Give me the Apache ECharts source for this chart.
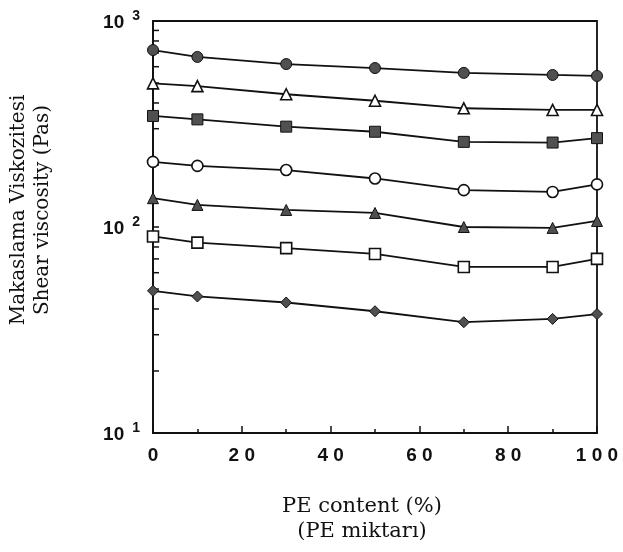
<!DOCTYPE html>
<html><head><meta charset="utf-8">
<script src="https://cdn.jsdelivr.net/npm/echarts@6/dist/echarts.min.js"></script>
<style>html,body{margin:0;padding:0;background:#fff}#c{width:623px;height:552px}</style>
</head><body><div id="c"></div>
<script>
var peContent = [0, 10, 30, 50, 70, 90, 100];
var filledCircle = [723, 669, 618, 591, 560, 547, 541];
var openTriangle = [498, 483, 441, 410, 377, 370, 370];
var filledSquare = [346, 333, 307, 290, 259, 257, 270];
var openCircle = [207, 198, 189, 172, 151, 148, 161];
var filledTriangle = [138, 128, 121, 117, 100, 99, 107];
var openSquare = [90, 84, 79, 74, 64, 64, 70];
var filledDiamond = [49, 46, 43, 39, 34.5, 35.8, 37.8];
var yTickValues = [20,30,40,50,60,70,80,90,100,200,300,400,500,600,700,800,900];
var xTickValues = [0, 20, 40, 60, 80, 100];
var xTickLabels = ['0','2 0','4 0','6 0','8 0','1 0 0'];
var yNameLines = ['Makaslama Viskozitesi', 'Shear viscosity (Pas)'];
var xNameLines = ['PE content (%)', '(PE miktarı)'];

var chart = echarts.init(document.getElementById('c'), null, {renderer:'canvas'});
function pts(arr){ return peContent.map(function(x,i){ return [x, arr[i]]; }); }
var FILL = '#505050';
function mk(name, arr, symbol, size, filled){
  return {
    type:'line', name:name, data:pts(arr), symbol:symbol, symbolSize:size,
    showAllSymbol:true, z:3,
    lineStyle:{color:'#111', width:1.8},
    itemStyle:{color: filled ? FILL : '#fff', borderColor:'#111', borderWidth: filled?1:1.6},
    emphasis:{disabled:true}, animation:false
  };
}
var series = [
  mk('s1', filledCircle, 'circle', 11, true),
  mk('s2', openTriangle, 'triangle', 11, false),
  mk('s3', filledSquare, 'rect', 11, true),
  mk('s4', openCircle, 'circle', 11, false),
  mk('s5', filledTriangle, 'triangle', 11, true),
  mk('s6', openSquare, 'rect', 11, false),
  mk('s7', filledDiamond, 'diamond', 11, true),
  {
    type:'custom', name:'yticks', silent:true, z:2, animation:false,
    data: yTickValues.map(function(v){ return [0, v]; }),
    encode:{x:0, y:1},
    renderItem:function(params, api){
      var p = api.coord([api.value(0), api.value(1)]);
      return {type:'line', shape:{x1:p[0], y1:p[1], x2:p[0]+6, y2:p[1]},
        style:{stroke:'#111', lineWidth:1.5}};
    }
  }
];
var xLabelMap = {};
xTickValues.forEach(function(v,i){ xLabelMap[v] = xTickLabels[i]; });

var nameFont = 'DejaVu Serif';
chart.setOption({
  animation:false,
  backgroundColor:'#fff',
  grid:{left:153, right:26, top:21, bottom:119, show:true, borderColor:'#111', borderWidth:1.8,
        containLabel:false, outerBoundsMode:'none'},
  graphic:[
    {type:'text', x:19, y:210, rotation:Math.PI/2, style:{text:yNameLines[0], font:'20px "DejaVu Serif"', fill:'#111', textAlign:'center', textVerticalAlign:'middle'}},
    {type:'text', x:43, y:210, rotation:Math.PI/2, style:{text:yNameLines[1], font:'20px "DejaVu Serif"', fill:'#111', textAlign:'center', textVerticalAlign:'middle'}},
    {type:'text', x:362, y:507, style:{text:xNameLines[0], font:'21px "DejaVu Serif"', fill:'#111', textAlign:'center', textVerticalAlign:'middle'}},
    {type:'text', x:362, y:532, style:{text:xNameLines[1], font:'21px "DejaVu Serif"', fill:'#111', textAlign:'center', textVerticalAlign:'middle'}}
  ],
  xAxis:{
    type:'value', min:0, max:100, interval:20,
    axisLine:{show:true, lineStyle:{color:'#111', width:1.8}},
    axisTick:{show:true, inside:true, length:7, lineStyle:{color:'#111', width:1.5}},
    minorTick:{show:true, splitNumber:2, length:4, lineStyle:{color:'#111', width:1.5}},
    splitLine:{show:false},
    axisLabel:{
      margin:13, color:'#111', fontFamily:'Liberation Sans', fontWeight:'bold', fontSize:19,
      formatter:function(v){ return xLabelMap[v] !== undefined ? xLabelMap[v] : ''; }
    }
  },
  yAxis:{
    type:'log', logBase:10, min:10, max:1000,
    axisLine:{show:true, lineStyle:{color:'#111', width:1.8}},
    axisTick:{show:false},
    splitLine:{show:false},
    axisLabel:{
      margin:13, color:'#111',
      formatter:function(v){ var e = Math.round(Math.log10(v)); return '{b|10}{s|' + e + '}'; },
      rich:{
        b:{fontFamily:'Liberation Sans', fontWeight:'bold', fontSize:19, color:'#111', padding:[4,0,0,0]},
        s:{fontFamily:'Liberation Sans', fontWeight:'bold', fontSize:14, color:'#111', padding:[0,0,10,8]}
      }
    }
  },
  series:series
});
</script>
</body></html>
